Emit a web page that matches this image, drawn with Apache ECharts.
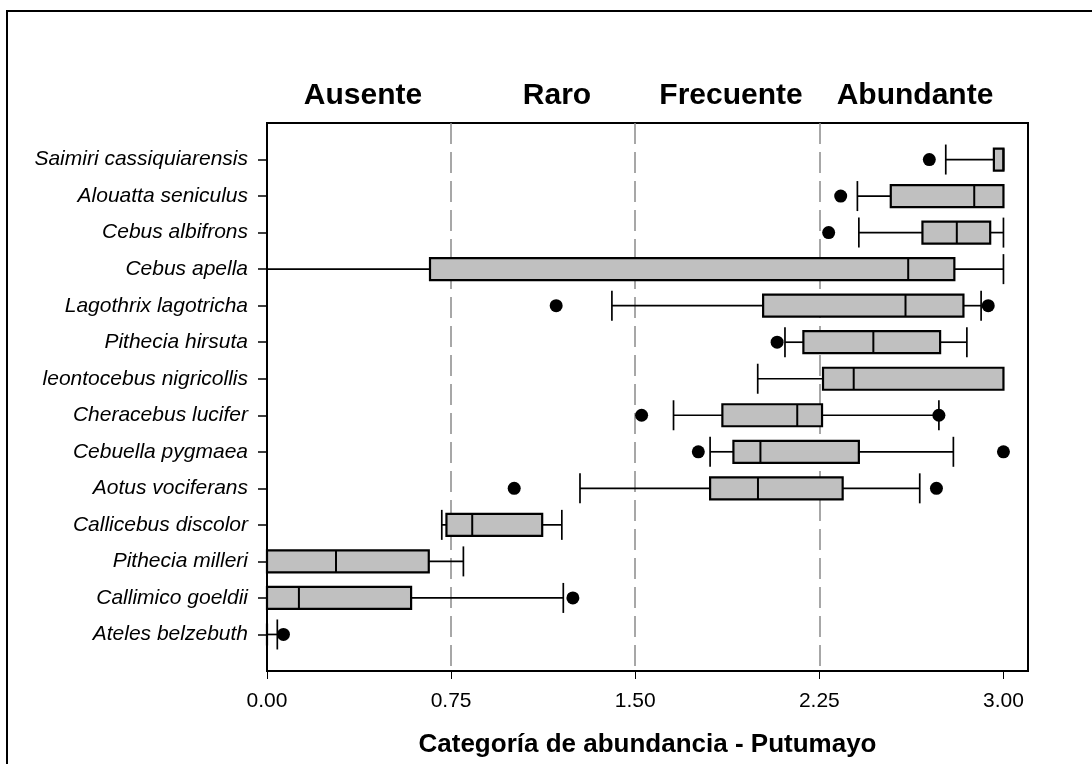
<!DOCTYPE html>
<html>
<head>
<meta charset="utf-8">
<script src="https://cdn.jsdelivr.net/npm/echarts@6/dist/echarts.min.js"></script>
<style>
  html, body { margin: 0; padding: 0; background: #fff; }
  #chart { width: 1092px; height: 764px; }
</style>
</head>
<body>
<div id="chart"></div>
<script>
// ---- Data ----
const species = ['Saimiri cassiquiarensis', 'Alouatta seniculus', 'Cebus albifrons', 'Cebus apella',
  'Lagothrix lagotricha', 'Pithecia hirsuta', 'leontocebus nigricollis', 'Cheracebus lucifer',
  'Cebuella pygmaea', 'Aotus vociferans', 'Callicebus discolor', 'Pithecia milleri',
  'Callimico goeldii', 'Ateles belzebuth'];
const whiskerLow  = [2.765, 2.405, 2.411, 0.000, 1.405, 2.110, 1.999, 1.656, 1.805, 1.275, 0.712, 0.000, 0.000, 0.000];
const quartile1   = [2.961, 2.541, 2.670, 0.664, 2.021, 2.185, 2.265, 1.855, 1.900, 1.805, 0.731, 0.000, 0.000, 0.000];
const median      = [3.000, 2.881, 2.810, 2.612, 2.601, 2.470, 2.390, 2.160, 2.010, 2.000, 0.836, 0.281, 0.130, 0.000];
const quartile3   = [3.000, 3.000, 2.946, 2.800, 2.837, 2.742, 3.000, 2.261, 2.411, 2.345, 1.121, 0.659, 0.587, 0.000];
const whiskerHigh = [3.000, 3.000, 3.000, 3.000, 2.909, 2.851, 3.000, 2.737, 2.796, 2.659, 1.201, 0.800, 1.207, 0.042];
const outliers = [[2.698], [2.337], [2.288], [], [1.178, 2.938], [2.078], [], [1.526, 2.737],
  [1.757, 3.000], [1.007, 2.727], [], [], [1.246], [0.067]];
const xTicks = [0, 0.75, 1.5, 2.25, 3];
const regionLabels = ['Ausente', 'Raro', 'Frecuente', 'Abundante'];
const xTitle = 'Categoría de abundancia - Putumayo';

// ---- Build library inputs ----
const FONT = "'Liberation Sans', Arial, sans-serif";
const yCats = [''].concat(species).concat(['']);
const boxData = species.map((s, i) => [i + 1, whiskerLow[i], quartile1[i], median[i], quartile3[i], whiskerHigh[i]]);
const outlierData = [];
outliers.forEach((arr, i) => arr.forEach(v => outlierData.push([v, i + 1])));

const BOX_H = 22, CAP_H = 30;
function renderItem(params, api) {
  const cat = api.value(0);
  const lo = api.coord([api.value(1), cat]);
  const q1 = api.coord([api.value(2), cat]);
  const md = api.coord([api.value(3), cat]);
  const q3 = api.coord([api.value(4), cat]);
  const hi = api.coord([api.value(5), cat]);
  const y = lo[1];
  const wStyle = { stroke: '#000', lineWidth: 1.7 };
  const children = [];
  if (q1[0] > lo[0]) {
    children.push({ type: 'line', shape: { x1: lo[0], y1: y, x2: q1[0], y2: y }, style: wStyle });
    children.push({ type: 'line', shape: { x1: lo[0], y1: y - CAP_H / 2, x2: lo[0], y2: y + CAP_H / 2 }, style: wStyle });
  }
  if (hi[0] > q3[0]) {
    children.push({ type: 'line', shape: { x1: q3[0], y1: y, x2: hi[0], y2: y }, style: wStyle });
    children.push({ type: 'line', shape: { x1: hi[0], y1: y - CAP_H / 2, x2: hi[0], y2: y + CAP_H / 2 }, style: wStyle });
  }
  children.push({ type: 'rect', shape: { x: q1[0], y: y - BOX_H / 2, width: q3[0] - q1[0], height: BOX_H },
    style: { fill: '#c0c0c0', stroke: '#000', lineWidth: 2.2 } });
  children.push({ type: 'line', shape: { x1: md[0], y1: y - BOX_H / 2, x2: md[0], y2: y + BOX_H / 2 },
    style: { stroke: '#000', lineWidth: 2 } });
  return { type: 'group', children: children };
}

const regionX = [363, 557, 731, 915];
const chart = echarts.init(document.getElementById('chart'), null, { renderer: 'canvas' });
chart.setOption({
  backgroundColor: '#fff',
  animation: false,
  textStyle: { fontFamily: FONT },
  grid: { left: 267, top: 123, right: 64, bottom: 93, show: true, borderColor: '#000', borderWidth: 2, backgroundColor: 'transparent' },
  xAxis: {
    type: 'value', min: 0, max: 3.1, interval: 0.75,
    axisLine: { show: true, lineStyle: { color: '#000', width: 2 } },
    axisTick: { show: true, length: 8, customValues: xTicks, lineStyle: { color: '#000', width: 1 } },
    axisLabel: { customValues: xTicks, margin: 20, fontSize: 21, color: '#000', fontFamily: FONT,
      formatter: v => Number(v).toFixed(2) },
    splitLine: { show: true, showMinLine: false, showMaxLine: false, lineStyle: { color: '#8a8a8a', width: 1.5, type: [21, 8] } },
    name: xTitle, nameLocation: 'middle', nameGap: 61,
    nameTextStyle: { fontSize: 26, fontWeight: 'bold', color: '#000', fontFamily: FONT }
  },
  yAxis: {
    type: 'category', data: yCats, inverse: true, boundaryGap: false,
    axisLine: { show: true, lineStyle: { color: '#000', width: 2 } },
    axisTick: { show: true, length: 9, interval: (idx, val) => val !== '', lineStyle: { color: '#000', width: 1.5 } },
    axisLabel: { interval: 0, margin: 19, fontSize: 21, fontStyle: 'italic', color: '#000', fontFamily: FONT },
    splitLine: { show: false }
  },
  graphic: [
    { type: 'rect', silent: true, z: -10, shape: { x: 7, y: 11, width: 1300, height: 1000 },
      style: { fill: 'none', stroke: '#000', lineWidth: 2 } }
  ].concat(regionLabels.map((t, i) => ({
    type: 'text', x: regionX[i], y: 96,
    style: { text: t, font: "bold 30px 'Liberation Sans', Arial, sans-serif", fill: '#000',
      textAlign: 'center', textVerticalAlign: 'middle' }
  }))),
  series: [
    { type: 'custom', renderItem: renderItem, data: boxData, encode: { x: [1, 2, 3, 4, 5], y: 0 }, z: 3 },
    { type: 'scatter', data: outlierData, symbol: 'circle', symbolSize: 13,
      itemStyle: { color: '#000', opacity: 1 }, z: 5 }
  ]
});
</script>
</body>
</html>
